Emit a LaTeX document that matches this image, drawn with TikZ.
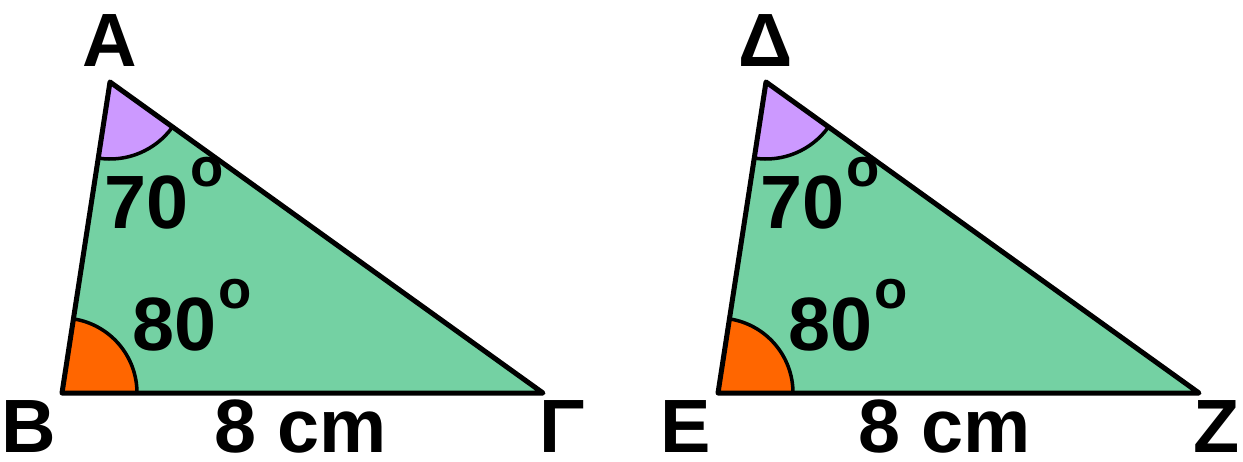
\documentclass[tikz,border=0pt]{standalone}
\usepackage{fontspec}
\setmainfont{Liberation Sans}
\usepackage{tikz}
\usetikzlibrary{calc}
\definecolor{triGreen}{HTML}{74D1A3}
\definecolor{angPurple}{HTML}{CC99FF}
\definecolor{angOrange}{HTML}{FF6600}
\newcommand{\degsup}{\hspace{1pt}\raisebox{0.55em}{\fontsize{31}{31}\selectfont o}}

\begin{document}
\begin{tikzpicture}[x=0.02cm, y=0.02cm,
    side/.style={draw=black, line width=2.85pt, line join=round, line cap=round},
    arcline/.style={draw=black, line width=2pt},
    lbl/.style={font=\bfseries\fontsize{43}{43}\selectfont, inner sep=0pt, anchor=base},
    angle lbl/.style={font=\bfseries\fontsize{43}{43}\selectfont, inner sep=0pt, anchor=base west},
  ]
    \useasboundingbox (0,0) rectangle (1243,461);

    % first triangle
    \coordinate (A) at (110,379);
    \coordinate (B) at (62,68);
    \coordinate (G) at (543,68);
    \fill[triGreen] (A) -- (B) -- (G) -- cycle;
    \fill[angPurple] (A) -- +(261.2:77) arc[start angle=261.2, end angle=324.3, radius=77] -- cycle;
    \fill[angOrange] (B) -- +(0:75) arc[start angle=0, end angle=81.2, radius=75] -- cycle;
    \draw[arcline] ($(A)+(261.2:77)$) arc[start angle=261.2, end angle=324.3, radius=77];
    \draw[arcline] ($(B)+(0:75)$) arc[start angle=0, end angle=81.2, radius=75];
    \draw[side] (A) -- (B) -- (G) -- cycle;

    \node[lbl] (lA) at (110,395) {A};
    \node[lbl] (lB) at (29,9) {B};
    \node[lbl] (lG) at (562,9) {Γ};
    \node[lbl] (len1) at (301,9) {8 cm};
    \node[angle lbl] (a70) at (104,233) {70\degsup};
    \node[angle lbl] (a80) at (132,111) {80\degsup};

    % second triangle
    \coordinate (D) at (766,379);
    \coordinate (E) at (718,68);
    \coordinate (Z) at (1199,68);
    \fill[triGreen] (D) -- (E) -- (Z) -- cycle;
    \fill[angPurple] (D) -- +(261.2:77) arc[start angle=261.2, end angle=324.3, radius=77] -- cycle;
    \fill[angOrange] (E) -- +(0:75) arc[start angle=0, end angle=81.2, radius=75] -- cycle;
    \draw[arcline] ($(D)+(261.2:77)$) arc[start angle=261.2, end angle=324.3, radius=77];
    \draw[arcline] ($(E)+(0:75)$) arc[start angle=0, end angle=81.2, radius=75];
    \draw[side] (D) -- (E) -- (Z) -- cycle;

    \node[lbl] (lD) at (766,395) {Δ};
    \node[lbl] (lE) at (686,9) {E};
    \node[lbl] (lZ) at (1217,9) {Z};
    \node[lbl] (len2) at (945,9) {8 cm};
    \node[angle lbl] (b70) at (760,233) {70\degsup};
    \node[angle lbl] (b80) at (788,111) {80\degsup};
\end{tikzpicture}
\end{document}
